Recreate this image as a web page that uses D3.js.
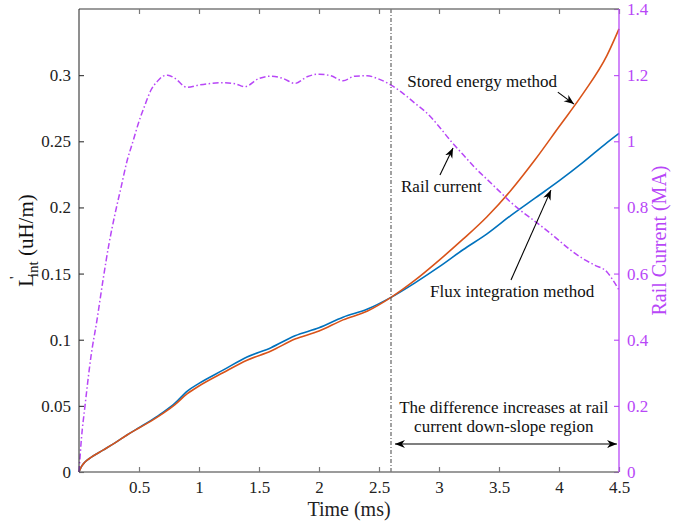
<!DOCTYPE html>
<html>
<head>
<meta charset="utf-8">
<script src="https://cdn.jsdelivr.net/npm/d3@7/dist/d3.min.js"></script>
<style>
  html, body { margin: 0; padding: 0; background: #fff; }
  svg { display: block; }
  svg text { font-family: "Liberation Serif", "Times New Roman", Times, "DejaVu Serif", serif !important; }
</style>
</head>
<body>
<svg id="chart" width="694" height="523"></svg>
<script>
// ---------- data ----------
const timeFluxLow = [0, 0.02, 0.05, 0.1, 0.2, 0.3, 0.4, 0.5, 0.6, 0.7, 0.8, 0.9, 1.0, 1.2, 1.4, 1.6, 1.8, 2.0, 2.2, 2.4, 2.6,
                     2.8, 3.0, 3.2, 3.4, 3.6, 3.8, 4.0, 4.2, 4.4, 4.5];
const fluxIntegration = [0, 0.004, 0.0075, 0.011, 0.0165, 0.022, 0.028, 0.0335, 0.039, 0.045, 0.052, 0.061, 0.067, 0.077, 0.087, 0.094, 0.103, 0.109, 0.117, 0.123, 0.132,
                     0.143, 0.155, 0.168, 0.180, 0.194, 0.207, 0.220, 0.234, 0.249, 0.256];
const storedEnergy = [0, 0.004, 0.0075, 0.011, 0.0165, 0.022, 0.028, 0.0333, 0.0385, 0.0443, 0.051, 0.059, 0.065, 0.075, 0.0845, 0.0915, 0.1005, 0.1065, 0.115, 0.1215, 0.132,
                     0.145, 0.160, 0.176, 0.193, 0.213, 0.236, 0.261, 0.286, 0.315, 0.335];

const timeCurrent = [0, 0.02, 0.05, 0.1, 0.15, 0.2, 0.25, 0.3, 0.35, 0.4, 0.45, 0.5, 0.55, 0.6, 0.65, 0.7, 0.74, 0.8, 0.9,
                     1.0, 1.1, 1.2, 1.3, 1.38, 1.5, 1.6, 1.7, 1.8, 1.9, 2.0, 2.1, 2.2, 2.3, 2.4, 2.5, 2.6, 2.7, 2.8, 2.9,
                     3.0, 3.1, 3.2, 3.3, 3.4, 3.5, 3.6, 3.7, 3.8, 3.9, 4.0, 4.1, 4.2, 4.3, 4.4, 4.45, 4.5];
const railCurrent = [0, 0.1, 0.2, 0.35, 0.46, 0.58, 0.69, 0.78, 0.86, 0.94, 1.0, 1.06, 1.11, 1.155, 1.18, 1.197, 1.2, 1.19, 1.163,
                     1.17, 1.175, 1.177, 1.174, 1.165, 1.19, 1.197, 1.19, 1.175, 1.195, 1.203, 1.198, 1.183, 1.197, 1.198, 1.188, 1.17, 1.145, 1.115, 1.085,
                     1.045, 1.0, 0.96, 0.92, 0.885, 0.85, 0.815, 0.785, 0.758, 0.73, 0.7, 0.67, 0.645, 0.625, 0.605, 0.58, 0.55];

const xTicks = [0.5, 1, 1.5, 2, 2.5, 3, 3.5, 4, 4.5];
const yLeftTicks = [0, 0.05, 0.1, 0.15, 0.2, 0.25, 0.3];
const yRightTicks = [0, 0.2, 0.4, 0.6, 0.8, 1, 1.2, 1.4];
const markerTime = 2.6;

// ---------- layout ----------
const FONT = '"Liberation Serif", "Times New Roman", Times, "DejaVu Serif", serif';
const svg = d3.select("#chart");
const L = 79, R = 619, T = 9, B = 472;
const x = d3.scaleLinear().domain([0, 4.5]).range([L, R]);
const y = d3.scaleLinear().domain([0, 0.35]).range([B, T]);
const y2 = d3.scaleLinear().domain([0, 1.4]).range([B, T]);

const purple = "#b847f7";
const orange = "#d95319";
const blue = "#0072bd";
const axisGray = "#7a7a7a";

// ---------- curves ----------
const lineL = (vals) => d3.line().x((d, i) => x(timeFluxLow[i])).y((d) => y(d)).curve(d3.curveMonotoneX)(vals);

svg.append("path").attr("d", lineL(fluxIntegration))
  .attr("fill", "none").attr("stroke", blue).attr("stroke-width", 1.6);
svg.append("path").attr("d", lineL(storedEnergy))
  .attr("fill", "none").attr("stroke", orange).attr("stroke-width", 1.6);

const lineI = d3.line().x((d, i) => x(timeCurrent[i])).y((d) => y2(d)).curve(d3.curveMonotoneX);
svg.append("path").attr("d", lineI(railCurrent))
  .attr("fill", "none").attr("stroke", purple).attr("stroke-width", 1.5)
  .attr("stroke-dasharray", "6,2.5,1.5,2.5");

// vertical dash-dot marker line
svg.append("line")
  .attr("x1", x(markerTime)).attr("x2", x(markerTime))
  .attr("y1", y(0)).attr("y2", T)
  .attr("stroke", "#555").attr("stroke-width", 1.1)
  .attr("stroke-dasharray", "4,2,1,2");

// ---------- axes ----------
const tickLen = 5;
const xb = svg.append("g").attr("transform", `translate(0,${B})`)
  .call(d3.axisBottom(x).tickValues(xTicks).tickSize(-tickLen).tickPadding(9).tickFormat(d3.format("")));
xb.attr("font-family", null);
xb.select(".domain").remove();
xb.selectAll(".tick line").attr("stroke", axisGray).attr("stroke-width", 1.2);
xb.selectAll(".tick text").attr("font-size", 17).attr("fill", "#222").style("font-family", FONT);

const xt = svg.append("g").attr("transform", `translate(0,${T})`)
  .call(d3.axisTop(x).tickValues(xTicks).tickSize(-tickLen).tickFormat(""));
xt.select(".domain").remove();
xt.selectAll(".tick line").attr("stroke", axisGray).attr("stroke-width", 1.2);

const yl = svg.append("g").attr("transform", `translate(${L},0)`)
  .call(d3.axisLeft(y).tickValues(yLeftTicks).tickSize(-tickLen).tickPadding(8).tickFormat(d3.format("")));
yl.attr("font-family", null);
yl.select(".domain").remove();
yl.selectAll(".tick line").attr("stroke", "#333").attr("stroke-width", 1.1);
yl.selectAll(".tick text").attr("font-size", 17).attr("fill", "#222").style("font-family", FONT);

const yr = svg.append("g").attr("transform", `translate(${R},0)`)
  .call(d3.axisRight(y2).tickValues(yRightTicks).tickSize(-tickLen).tickPadding(8).tickFormat(d3.format("")));
yr.attr("font-family", null);
yr.select(".domain").remove();
yr.selectAll(".tick line").attr("stroke", purple).attr("stroke-width", 1.1);
yr.selectAll(".tick text").attr("font-size", 17).attr("fill", purple).style("font-family", FONT);

// frame lines
svg.append("line").attr("x1", L).attr("x2", R).attr("y1", B).attr("y2", B).attr("stroke", axisGray).attr("stroke-width", 1.6);
svg.append("line").attr("x1", L).attr("x2", R).attr("y1", T).attr("y2", T).attr("stroke", axisGray).attr("stroke-width", 1.6);
svg.append("line").attr("x1", L).attr("x2", L).attr("y1", T).attr("y2", B).attr("stroke", "#333").attr("stroke-width", 1.1);
svg.append("line").attr("x1", R).attr("x2", R).attr("y1", T).attr("y2", B).attr("stroke", purple).attr("stroke-width", 1.3);

// ---------- axis labels ----------
svg.append("text").attr("x", x(2.25)).attr("y", 516).attr("text-anchor", "middle")
  .attr("font-size", 20).attr("fill", "#222").style("font-family", FONT).text("Time (ms)");

const yLab = svg.append("text")
  .attr("transform", `translate(33,${(T + B) / 2}) rotate(-90)`)
  .attr("text-anchor", "middle").attr("font-size", 21).attr("fill", "#111").style("font-family", FONT);
yLab.append("tspan").text("L");
yLab.append("tspan").attr("font-size", 15).attr("dx", -5).attr("dy", -13).text("'");
yLab.append("tspan").attr("font-size", 15).attr("dx", -1).attr("dy", 18).text("int");
yLab.append("tspan").attr("dy", -5).text(" (uH/m)");

svg.append("text")
  .attr("transform", `translate(666,${(T + B) / 2}) rotate(-90)`)
  .attr("text-anchor", "middle").attr("font-size", 20).attr("fill", purple).style("font-family", FONT)
  .text("Rail Current (MA)");

// ---------- annotations ----------
const defs = svg.append("defs");
defs.append("marker").attr("id", "ah").attr("viewBox", "-10 -5 12 10")
  .attr("refX", 0).attr("refY", 0).attr("markerWidth", 12).attr("markerHeight", 10)
  .attr("markerUnits", "userSpaceOnUse").attr("orient", "auto-start-reverse")
  .append("path").attr("d", "M0,0 L-10,-4 L-7,0 L-10,4 Z").attr("fill", "#000");

const labels = [
  { text: "Stored energy method", t: 3.36, v: 0.291 },
  { text: "Rail current", t: 3.02, v: 0.2116 },
  { text: "Flux integration method", t: 3.61, v: 0.132 },
  { text: "The difference increases at rail", t: 3.54, v: 0.0446 },
  { text: "current down-slope region", t: 3.54, v: 0.0302 }
];
labels.forEach(d => {
  svg.append("text").attr("x", x(d.t)).attr("y", y(d.v)).attr("text-anchor", "middle")
    .attr("font-size", 17).attr("fill", "#111").style("font-family", FONT).text(d.text);
});

const arrows = [
  { t0: 3.99, v0: 0.2872, t1: 4.125, v1: 0.2781, both: false },
  { t0: 3.008, v0: 0.2245, t1: 3.117, v1: 0.2449, both: false },
  { t0: 3.6, v0: 0.1452, t1: 3.933, v1: 0.2131, both: false },
  { t0: 2.633, v0: 0.0212, t1: 4.483, v1: 0.0212, both: true }
];
arrows.forEach(a => {
  const ln = svg.append("line")
    .attr("x1", x(a.t0)).attr("y1", y(a.v0)).attr("x2", x(a.t1)).attr("y2", y(a.v1))
    .attr("stroke", "#000").attr("stroke-width", 1.1)
    .attr("marker-end", "url(#ah)");
  if (a.both) ln.attr("marker-start", "url(#ah)");
});
</script>
</body>
</html>
